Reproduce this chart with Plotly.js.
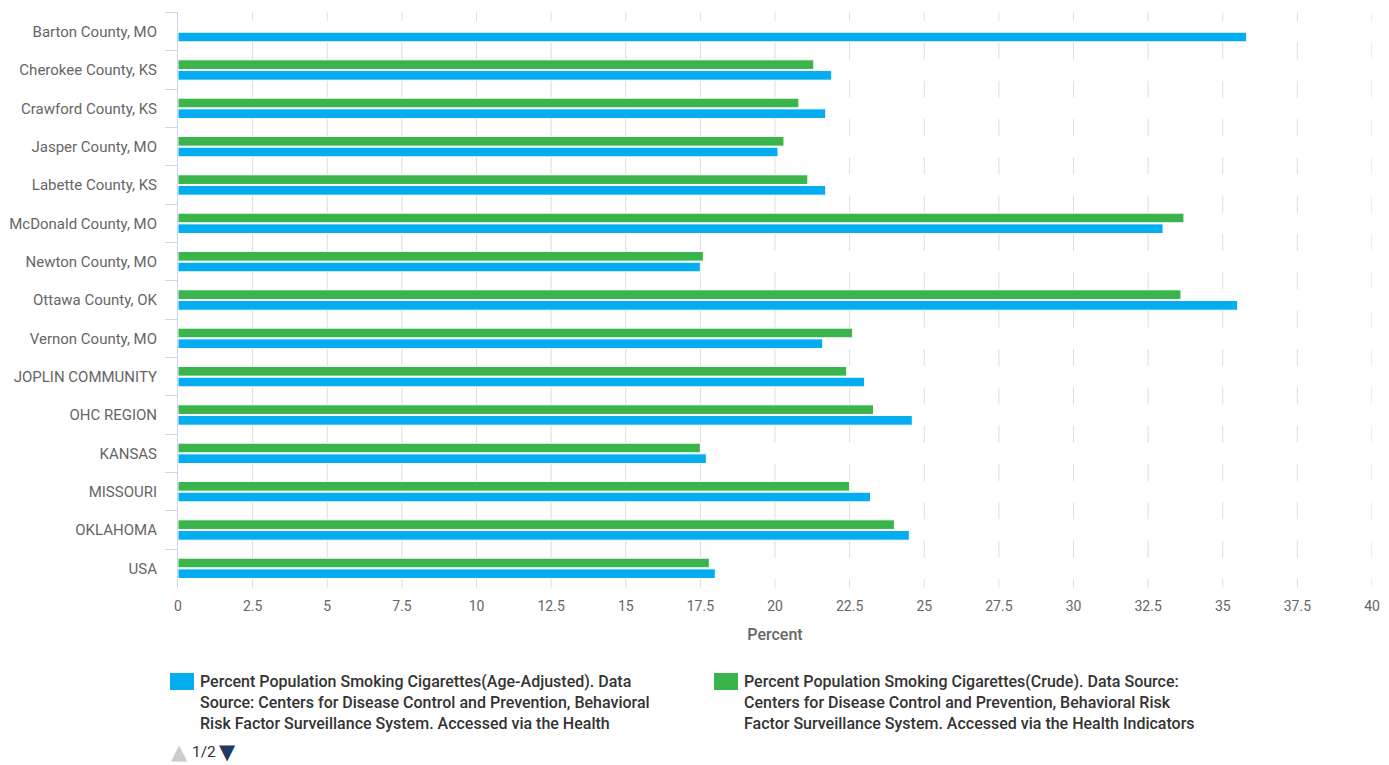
<!DOCTYPE html>
<html>
<head>
<meta charset="utf-8">
<script src="https://cdn.plot.ly/plotly-3.0.1.min.js"></script>
<style>
html,body{margin:0;padding:0;background:#fff;}
#chart{width:1389px;height:765px;}
</style>
</head>
<body>
<div id="chart"></div>
<script>
const categories = [
  "Barton County, MO", "Cherokee County, KS", "Crawford County, KS", "Jasper County, MO",
  "Labette County, KS", "McDonald County, MO", "Newton County, MO", "Ottawa County, OK",
  "Vernon County, MO", "JOPLIN COMMUNITY", "OHC REGION", "KANSAS", "MISSOURI", "OKLAHOMA", "USA"
];
const ageAdjusted = [35.8, 21.9, 21.7, 20.1, 21.7, 33.0, 17.5, 35.5, 21.6, 23.0, 24.6, 17.7, 23.2, 24.5, 18.0];
const crude = [null, 21.3, 20.8, 20.3, 21.1, 33.7, 17.6, 33.6, 22.6, 22.4, 23.3, 17.5, 22.5, 24.0, 17.8];
const seriesNames = [
  "Percent Population Smoking Cigarettes(Age-Adjusted). Data<br>Source: Centers for Disease Control and Prevention, Behavioral<br>Risk Factor Surveillance System. Accessed via the Health",
  "Percent Population Smoking Cigarettes(Crude). Data Source:<br>Centers for Disease Control and Prevention, Behavioral Risk<br>Factor Surveillance System. Accessed via the Health Indicators"
];
const xTickVals = [0, 2.5, 5, 7.5, 10, 12.5, 15, 17.5, 20, 22.5, 25, 27.5, 30, 32.5, 35, 37.5, 40];
const xTickText = ["0", "2.5", "5", "7.5", "10", "12.5", "15", "17.5", "20", "22.5", "25", "27.5", "30", "32.5", "35", "37.5", "40"];

const BLUE = "#04adef";
const GREEN = "#3bb54b";
const FONT = "Roboto, 'Noto Sans', sans-serif";

const W = 1389, H = 765;
const M = {l: 178, r: 17, t: 12, b: 177};
const pw = W - M.l - M.r, ph = H - M.t - M.b;
const px = x => (x - M.l) / pw;
const py = y => (H - M.b - y) / ph;

const traces = [
  {type: "bar", orientation: "h", name: "Crude", y: categories, x: crude,
   marker: {color: GREEN, line: {color: "#ffffff", width: 1}}, hoverinfo: "x+y"},
  {type: "bar", orientation: "h", name: "Age-Adjusted", y: categories, x: ageAdjusted,
   marker: {color: BLUE, line: {color: "#ffffff", width: 1}}, hoverinfo: "x+y"}
];

// vertical grid lines, interrupted behind each category's bar band
const BAND = 0.28;
const shapes = [];
xTickVals.slice(1).forEach(v => {
  for (let k = 0; k <= categories.length; k++) {
    const y0 = k === 0 ? -0.5 : k - 1 + BAND;
    const y1 = k === categories.length ? categories.length - 0.5 : k - BAND;
    shapes.push({type: "line", xref: "x", yref: "y", x0: v, x1: v, y0: y0, y1: y1,
      line: {color: "#dddddd", width: 1}, layer: "below"});
  }
});
// legend swatches
shapes.push({type: "rect", xref: "paper", yref: "paper", x0: px(170), x1: px(194), y0: py(690), y1: py(673),
  fillcolor: BLUE, line: {width: 0}});
shapes.push({type: "rect", xref: "paper", yref: "paper", x0: px(714), x1: px(738), y0: py(690), y1: py(673),
  fillcolor: GREEN, line: {width: 0}});

const annotations = [
  {xref: "paper", yref: "paper", x: px(198), y: py(670), xanchor: "left", yanchor: "top", align: "left",
   showarrow: false, text: seriesNames[0], font: {family: FONT, size: 16, color: "#333333", weight: 500}},
  {xref: "paper", yref: "paper", x: px(742), y: py(670), xanchor: "left", yanchor: "top", align: "left",
   showarrow: false, text: seriesNames[1], font: {family: FONT, size: 16, color: "#333333", weight: 500}},
  {xref: "paper", yref: "paper", x: px(169), y: py(752), xanchor: "left", yanchor: "middle",
   showarrow: false, text: "▲", font: {family: "DejaVu Sans", size: 21, color: "#cccccc"}},
  {xref: "paper", yref: "paper", x: px(190), y: py(752), xanchor: "left", yanchor: "middle",
   showarrow: false, text: "1/2", font: {family: FONT, size: 15.5, color: "#333333"}},
  {xref: "paper", yref: "paper", x: px(217), y: py(752), xanchor: "left", yanchor: "middle",
   showarrow: false, text: "▼", font: {family: "DejaVu Sans", size: 21, color: "#1f3a5f"}}
];

const layout = {
  width: W, height: H,
  margin: M,
  paper_bgcolor: "#ffffff", plot_bgcolor: "#ffffff",
  font: {family: FONT, color: "#666666"},
  showlegend: false,
  barmode: "group", bargap: 0.44, bargroupgap: 0.1,
  xaxis: {
    range: [0, 40], tickvals: xTickVals, ticktext: xTickText,
    showgrid: false, zeroline: false, showline: false,
    ticks: "", tickfont: {family: FONT, size: 14, color: "#666666"}, ticklabelstandoff: 8,
    title: {text: "Percent", font: {family: FONT, size: 16, color: "#666666", weight: 500}, standoff: 15},
    fixedrange: true
  },
  yaxis: {
    type: "category", autorange: "reversed",
    showline: true, linecolor: "#ccd6eb", linewidth: 1,
    ticks: "outside", tickson: "boundaries", ticklen: 12, tickcolor: "#ccd6eb", tickwidth: 1,
    showgrid: false, zeroline: false,
    tickfont: {family: FONT, size: 15, color: "#666666"}, ticklabelstandoff: 17,
    fixedrange: true
  },
  shapes: shapes,
  annotations: annotations
};

Plotly.newPlot("chart", traces, layout, {displayModeBar: false, staticPlot: true});
</script>
</body>
</html>
